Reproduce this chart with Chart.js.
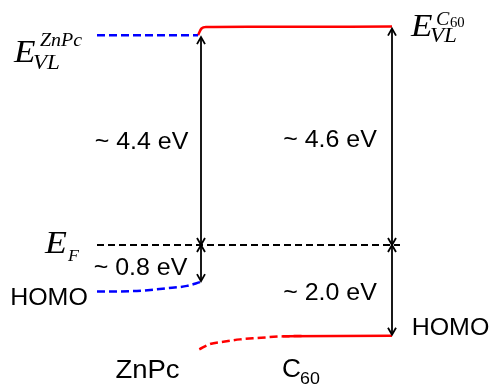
<!DOCTYPE html>
<html>
<head>
<meta charset="utf-8">
<script src="https://cdn.jsdelivr.net/npm/chart.js@4.4.0/dist/chart.umd.min.js"></script>
<style>
html,body{margin:0;padding:0;background:#fff;}
#wrap{width:492px;height:388px;}
</style>
</head>
<body>
<div id="wrap"><canvas id="c" width="492" height="388"></canvas></div>
<script>
// ---- DATA (x: position across the junction, interface at 0; y: energy in eV, E_F = 0) ----
const znpcVacuumX = [-1.03, -0.02];
const znpcVacuumY = [4.42, 4.42];
const c60VacuumX = [-0.02, 0.015, 0.06, 0.5, 1.92];
const c60VacuumY = [4.42, 4.56, 4.59, 4.595, 4.60];
const fermiX = [-1.03, 2.0];
const fermiY = [0, 0];
const znpcHomoX = [-1.03, -0.67, -0.33, -0.13, 0.0];
const znpcHomoY = [-0.98, -0.97, -0.91, -0.86, -0.78];
const c60HomoDashX = [-0.007, 0.10, 0.233, 0.40, 0.567, 0.833, 1.03];
const c60HomoDashY = [-2.196, -2.085, -2.036, -1.986, -1.958, -1.922, -1.915];
const c60HomoX = [0.83, 1.92];
const c60HomoY = [-1.92, -1.91];
const arrowX = [0.01, 0.01, 1.92, 1.92];
const arrowFrom = [0, 0, 0, 0];
const arrowTo = [4.42, -0.78, 4.60, -1.91];
const gapLabels = ['~ 4.4 eV', '~ 0.8 eV', '~ 4.6 eV', '~ 2.0 eV'];
const homoLabel = 'HOMO';
const materialLabels = ['ZnPc', 'C'];
const c60Sub = '60';

function pts(xs, ys){ return xs.map((x,i)=>({x:x, y:ys[i]})); }

const SANS = '"Liberation Sans", Arial, sans-serif';
const SERIF = '"Liberation Serif", "Times New Roman", serif';
const SX = 1.04;

function txt(ctx, s, x, y, font, align, sx){
  ctx.save();
  ctx.font = font;
  ctx.textAlign = align || 'left';
  ctx.textBaseline = 'alphabetic';
  ctx.fillStyle = '#000';
  ctx.translate(x, y);
  ctx.scale(sx || 1, 1);
  ctx.fillText(s, 0, 0);
  ctx.restore();
}

function chevron(ctx, x, y, dir){
  // dir = -1 pointing up, +1 pointing down
  ctx.beginPath();
  ctx.moveTo(x - 4, y - dir * 7);
  ctx.lineTo(x, y);
  ctx.lineTo(x + 4, y - dir * 7);
  ctx.stroke();
}

const overlay = {
  id: 'overlay',
  afterDatasetsDraw(chart){
    const ctx = chart.ctx;
    const xs = chart.scales.x, ys = chart.scales.y;
    const X = v => xs.getPixelForValue(v), Y = v => ys.getPixelForValue(v);
    // arrows
    ctx.save();
    ctx.strokeStyle = '#000';
    ctx.lineWidth = 1.8;
    for (let i = 0; i < arrowX.length; i++){
      const px = X(arrowX[i]);
      const y0 = Y(arrowFrom[i]), y1 = Y(arrowTo[i]);
      const tip1 = y1 + (y1 < y0 ? 2 : -1);
      ctx.beginPath(); ctx.moveTo(px, y0); ctx.lineTo(px, tip1); ctx.stroke();
      const d = y1 < y0 ? -1 : 1;
      chevron(ctx, px, tip1, d);
      chevron(ctx, px, y0, -d);
    }
    ctx.restore();

    // gap labels
    const f = '24px ' + SANS;
    txt(ctx, gapLabels[0], X(-0.585), Y(2.02), f, 'center', SX);
    txt(ctx, gapLabels[1], X(-0.595), Y(-0.63), f, 'center', SX);
    txt(ctx, gapLabels[2], X(1.30), Y(2.07), f, 'center', SX);
    txt(ctx, gapLabels[3], X(1.30), Y(-1.16), f, 'center', SX);
    txt(ctx, homoLabel, X(-1.51), Y(-1.26), f, 'center', SX);
    txt(ctx, homoLabel, X(2.505), Y(-1.895), f, 'center', SX);
    txt(ctx, materialLabels[0], X(-0.525), Y(-2.80), '25px ' + SANS, 'center', 1.1);
    const cx = X(0.82), cy = Y(-2.78);
    txt(ctx, materialLabels[1], cx, cy, '25px ' + SANS, 'left', 1.05);
    txt(ctx, c60Sub, cx + 18, cy + 7, '17px ' + SANS, 'left', 1.05);

    // E_VL^ZnPc
    let ax = X(-1.86), ay = Y(3.85);
    txt(ctx, 'E', ax, ay, 'italic 32px ' + SERIF, 'left', 1.1);
    txt(ctx, 'VL', ax + 19, ay + 7, 'italic 21px ' + SERIF, 'left', 1.1);
    txt(ctx, 'ZnPc', ax + 26, ay - 16, 'italic 19px ' + SERIF, 'left', 1.05);
    // E_VL^C60
    ax = X(2.11); ay = Y(4.40);
    txt(ctx, 'E', ax, ay, 'italic 32px ' + SERIF, 'left', 1.1);
    txt(ctx, 'VL', ax + 19, ay + 6, 'italic 21px ' + SERIF, 'left', 1.1);
    txt(ctx, 'C', ax + 25, ay - 11, 'italic 19px ' + SERIF, 'left', 1.05);
    txt(ctx, '60', ax + 39, ay - 9, '14px ' + SERIF, 'left', 1.05);
    // E_F
    ax = X(-1.55); ay = Y(-0.17);
    txt(ctx, 'E', ax, ay, 'italic 32px ' + SERIF, 'left', 1.12);
    txt(ctx, 'F', ax + 23, ay + 8, 'italic 17px ' + SERIF, 'left', 1.05);
  }
};

const lineBase = {showLine: true, pointRadius: 0, borderWidth: 2.5, fill: false, cubicInterpolationMode: 'monotone'};

new Chart(document.getElementById('c'), {
  type: 'scatter',
  data: {
    datasets: [
      Object.assign({}, lineBase, {data: pts(fermiX, fermiY), borderColor: '#000', borderDash: [7, 4], borderWidth: 2}),
      Object.assign({}, lineBase, {data: pts(znpcVacuumX, znpcVacuumY), borderColor: '#0000ff', borderDash: [8, 4]}),
      Object.assign({}, lineBase, {data: pts(c60VacuumX, c60VacuumY), borderColor: '#ff0000'}),
      Object.assign({}, lineBase, {data: pts(znpcHomoX, znpcHomoY), borderColor: '#0000ff', borderDash: [8, 4]}),
      Object.assign({}, lineBase, {data: pts(c60HomoDashX, c60HomoDashY), borderColor: '#ff0000', borderDash: [8, 4]}),
      Object.assign({}, lineBase, {data: pts(c60HomoX, c60HomoY), borderColor: '#ff0000'})
    ]
  },
  options: {
    responsive: false,
    animation: false,
    layout: {padding: 0},
    plugins: {legend: {display: false}, tooltip: {enabled: false}},
    scales: {
      x: {type: 'linear', min: -2.0, max: 2.92, display: false},
      y: {type: 'linear', min: -3.01, max: 5.16, display: false}
    }
  },
  plugins: [overlay]
});
</script>
</body>
</html>
